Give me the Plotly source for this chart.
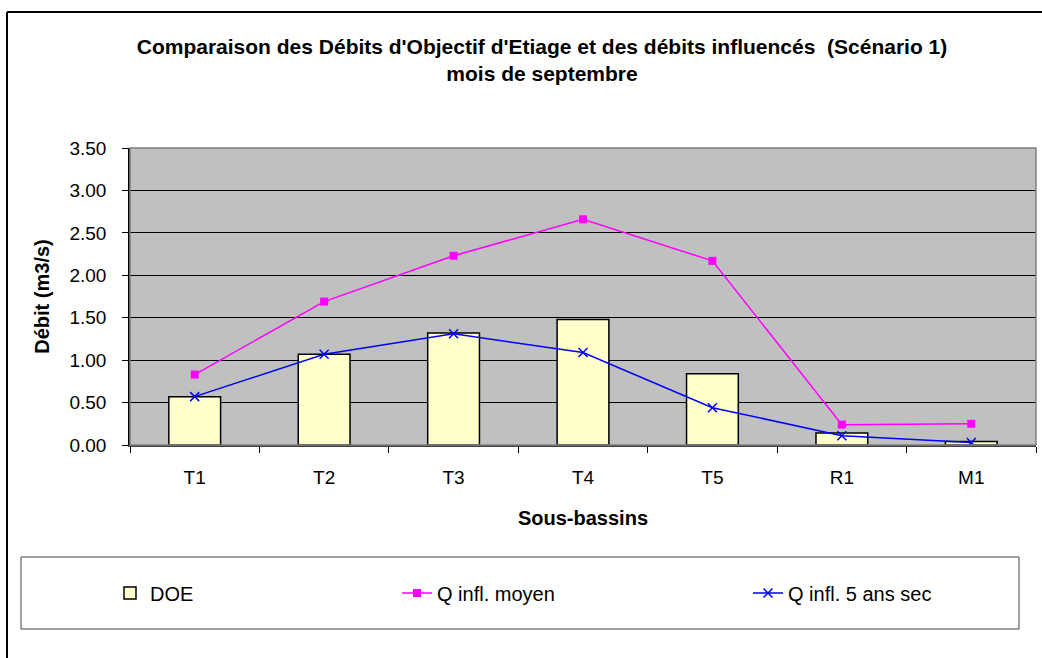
import plotly.graph_objects as go

categories = ["T1", "T2", "T3", "T4", "T5", "R1", "M1"]
doe = [0.57, 1.07, 1.32, 1.48, 0.84, 0.14, 0.04]
q_moyen = [0.83, 1.69, 2.23, 2.66, 2.17, 0.24, 0.25]
q_5ans = [0.57, 1.07, 1.31, 1.09, 0.44, 0.11, 0.03]
y_ticks = [0, 0.5, 1.0, 1.5, 2.0, 2.5, 3.0, 3.5]

FONT = "Liberation Sans, Arial, sans-serif"
W, H = 1042, 658
L, R, T, B = 130, 6, 148, 213
PW, PH = W - L - R, H - T - B


def px(x):
    return (x - L) / PW


def py(y):
    return (H - B - y) / PH


fig = go.Figure()
fig.add_trace(go.Bar(
    x=categories, y=doe, name="DOE", width=0.4,
    marker=dict(color="#FFFFCC", line=dict(color="black", width=1.5)),
    legend="legend", showlegend=True,
))
fig.add_trace(go.Scatter(
    x=categories, y=q_moyen, name="Q infl. moyen", mode="lines+markers",
    line=dict(color="#FF00FF", width=1.5),
    marker=dict(symbol="square", size=8, color="#FF00FF"),
    legend="legend2", showlegend=True,
))
fig.add_trace(go.Scatter(
    x=categories, y=q_5ans, name="Q infl. 5 ans sec", mode="lines+markers",
    line=dict(color="#0000FF", width=1.5),
    marker=dict(symbol="x-thin", size=9, line=dict(color="#0000FF", width=1.5)),
    legend="legend3", showlegend=True,
))

leg_common = dict(
    orientation="h", xref="container", yref="container",
    yanchor="middle", xanchor="left", bgcolor="rgba(0,0,0,0)",
    font=dict(family=FONT, size=20, color="black"), borderwidth=0,
    visible=True,
)
ly = 1 - 593 / H
fig.update_layout(
    width=W, height=H, showlegend=True,
    margin=dict(l=L, r=R, t=T, b=B, pad=0),
    paper_bgcolor="white", plot_bgcolor="#C0C0C0",
    font=dict(family=FONT, color="black"),
    title=dict(
        text="<b>Comparaison des Débits d'Objectif d'Etiage et des débits influencés  (Scénario 1)<br>mois de septembre</b>",
        x=542 / W, xref="container", xanchor="center",
        y=1 - 54 / H, yref="container", yanchor="top",
        font=dict(family=FONT, size=21, color="black"),
    ),
    legend=dict(x=110 / W, y=ly, **leg_common),
    legend2=dict(x=397 / W, y=ly, **leg_common),
    legend3=dict(x=748 / W, y=ly, **leg_common),
    xaxis=dict(
        type="category", tickson="boundaries", ticks="outside", ticklen=6,
        tickcolor="black", tickwidth=1, showgrid=False,
        showline=True, linecolor="#404040", linewidth=2,
        tickfont=dict(family=FONT, size=19), ticklabelstandoff=14,
        title=dict(text="<b>Sous-bassins</b>", font=dict(family=FONT, size=20), standoff=24),
    ),
    yaxis=dict(
        range=[0, 3.5], tickvals=y_ticks, tickformat=".2f", ticks="outside", ticklen=6,
        tickcolor="black", showgrid=True, gridcolor="black", gridwidth=1,
        showline=True, linecolor="black", linewidth=1.5, zeroline=False,
        tickfont=dict(family=FONT, size=19), ticklabelstandoff=12,
        title=dict(text="<b>Débit (m3/s)</b>", font=dict(family=FONT, size=20), standoff=14),
    ),
    shapes=[
        dict(type="rect", xref="paper", yref="paper", x0=0, x1=1, y0=0, y1=1,
             line=dict(color="#808080", width=1.5), layer="above"),
        dict(type="line", xref="paper", yref="paper",
             x0=px(7), x1=px(1060), y0=py(12), y1=py(12),
             line=dict(color="black", width=2)),
        dict(type="line", xref="paper", yref="paper",
             x0=px(7), x1=px(7), y0=py(12), y1=py(670),
             line=dict(color="black", width=2)),
        dict(type="rect", xref="paper", yref="paper",
             x0=px(21), x1=px(1019), y0=py(629), y1=py(557),
             line=dict(color="#404040", width=1)),
    ],
)

fig.write_html(
    "out.html",
    config={"displayModeBar": False},
    post_script="document.body.style.margin='0';document.body.style.padding='0';",
)
